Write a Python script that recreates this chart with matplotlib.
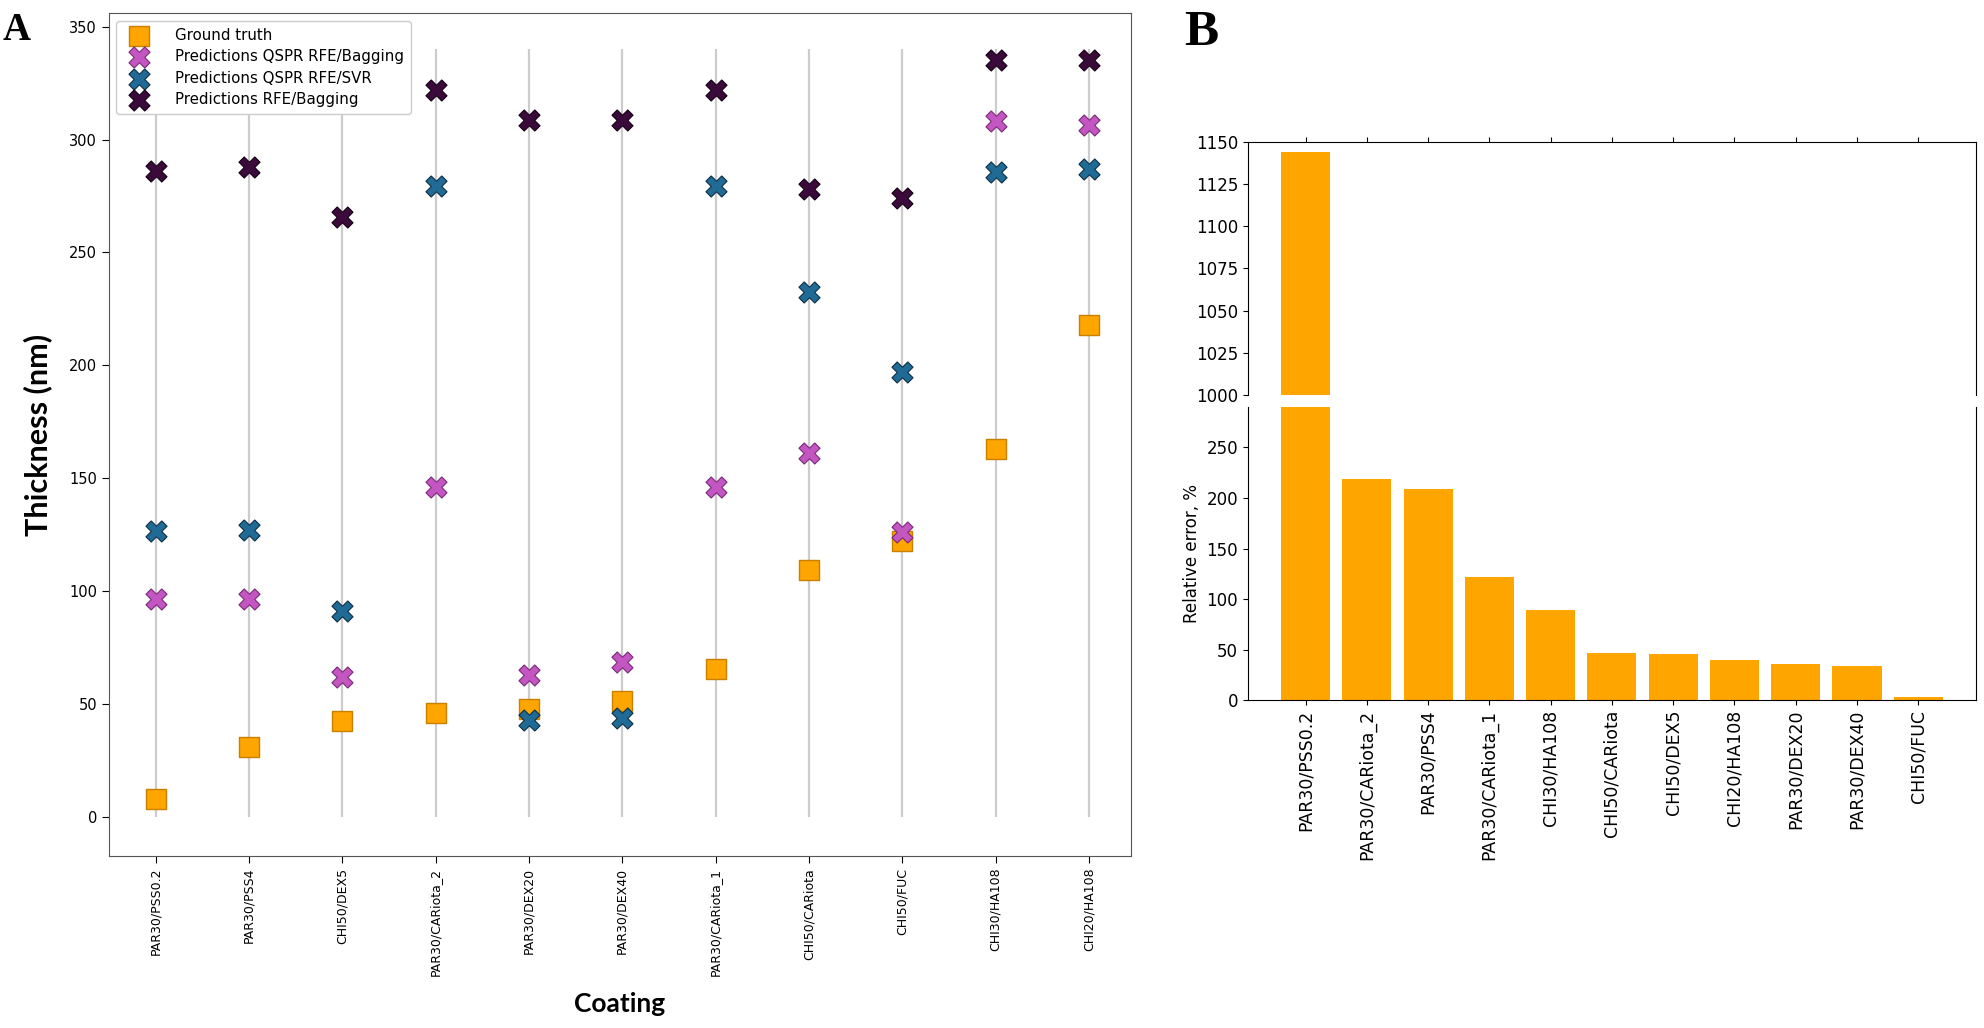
import numpy as np
import matplotlib
matplotlib.use("Agg")
import matplotlib.pyplot as plt

# Paleta
C_NARANJA = "#FFA500"
C_ROSA    = "#C356C0"
C_AZUL    = "#1F6B96"
C_OSCURO  = "#3A0B3A"

# ── Datos panel A ──────────────────────────────────────────────────────────
coatings = ["PAR30/PSS0.2", "PAR30/PSS4", "CHI50/DEX5", "PAR30/CARiota_2",
            "PAR30/DEX20", "PAR30/DEX40", "PAR30/CARiota_1", "CHI50/CARiota",
            "CHI50/FUC", "CHI30/HA108", "CHI20/HA108"]
ground_truth = [8, 31, 42.5, 46, 48, 51.5, 65.7, 109.5, 122, 163, 218]
qspr_bagging = [96.6, 96.6, 61.8, 146, 63, 68.6, 146, 161, 126, 308, 306.5]
qspr_svr     = [126.8, 127, 91, 279.6, 42.8, 43.8, 279.6, 232.6, 197, 285.4, 287]
rfe_bagging  = [286, 288, 265.5, 322, 308.5, 308.5, 322, 278.3, 274, 335, 335]
vline_top = 340

# ── Datos panel B ──────────────────────────────────────────────────────────
err_labels = ["PAR30/PSS0.2", "PAR30/CARiota_2", "PAR30/PSS4", "PAR30/CARiota_1",
              "CHI30/HA108", "CHI50/CARiota", "CHI50/DEX5", "CHI20/HA108",
              "PAR30/DEX20", "PAR30/DEX40", "CHI50/FUC"]
rel_error = [1144, 219, 209, 122, 89, 47, 46, 40, 36, 34, 3]

# ── Figura ─────────────────────────────────────────────────────────────────
fig = plt.figure(figsize=(19.84, 10.28), dpi=100)
fig.patch.set_facecolor("white")

axA = fig.add_axes([0.0549, 0.1673, 0.5151, 0.820])
x = np.arange(len(coatings))
axA.vlines(x, 0, vline_top, color="#CCCCCC", lw=1.6, zorder=0)
axA.scatter(x, ground_truth, marker="s", s=210, color=C_NARANJA,
            edgecolor="#C88000", lw=1.0, label="Ground truth", zorder=3)
axA.scatter(x, qspr_bagging, marker="X", s=230, color=C_ROSA,
            edgecolor="#7A2A78", lw=0.8, label="Predictions QSPR RFE/Bagging", zorder=4)
axA.scatter(x, qspr_svr, marker="X", s=230, color=C_AZUL,
            edgecolor="#0C2E45", lw=0.8, label="Predictions QSPR RFE/SVR", zorder=5)
axA.scatter(x, rfe_bagging, marker="X", s=230, color=C_OSCURO,
            edgecolor="#150015", lw=0.8, label="Predictions RFE/Bagging", zorder=6)

axA.set_xlim(-0.5, len(coatings) - 0.55)
axA.set_ylim(-17.3, 356)
axA.set_xticks(x)
axA.set_xticklabels(coatings, rotation=90, fontsize=9)
axA.set_yticks(np.arange(0, 351, 50))
axA.tick_params(axis="y", labelsize=10.5, length=5)
axA.tick_params(axis="x", length=5)
for sp in axA.spines.values():
    sp.set_color("#555555")
axA.set_ylabel("Thickness (nm)", fontsize=22, fontweight="bold", family="Lato", labelpad=12)
axA.set_xlabel("Coating", fontsize=19, fontweight="bold", family="Lato", labelpad=12)
axA.legend(loc="upper left", fontsize=10.8, borderpad=0.5, handletextpad=1.4,
           labelspacing=0.42, framealpha=1, edgecolor="#CCCCCC")

# ── Panel B: eje cortado ───────────────────────────────────────────────────
xb = np.arange(len(err_labels))
axT = fig.add_axes([0.629, 0.6158, 0.3669, 0.2461])
axB = fig.add_axes([0.629, 0.319, 0.3669, 0.285])
for ax in (axT, axB):
    ax.bar(xb, rel_error, width=0.8, color=C_NARANJA)
    ax.set_xlim(-0.94, len(err_labels) - 0.06)
    ax.tick_params(labelsize=12)
axT.set_ylim(1000, 1150)
axT.set_yticks(np.arange(1000, 1151, 25))
axB.set_ylim(0, 290)
axB.set_yticks(np.arange(0, 251, 50))

axT.spines["bottom"].set_visible(False)
axB.spines["top"].set_visible(False)
axT.xaxis.tick_top()
axT.set_xticks(xb)
axT.tick_params(axis="x", labeltop=False)
axB.set_xticks(xb)
axB.set_xticklabels(err_labels, rotation=90, fontsize=12.5)
axB.set_ylabel("Relative error, %", fontsize=12)

# Letras de panel
fig.text(0.0015, 0.988, "A", fontsize=28, fontweight="bold", family="Liberation Serif", va="top")
fig.text(0.597, 0.990, "B", fontsize=37, fontweight="bold", family="Liberation Serif", va="top")

plt.savefig("out.png", dpi=100, facecolor="white")
